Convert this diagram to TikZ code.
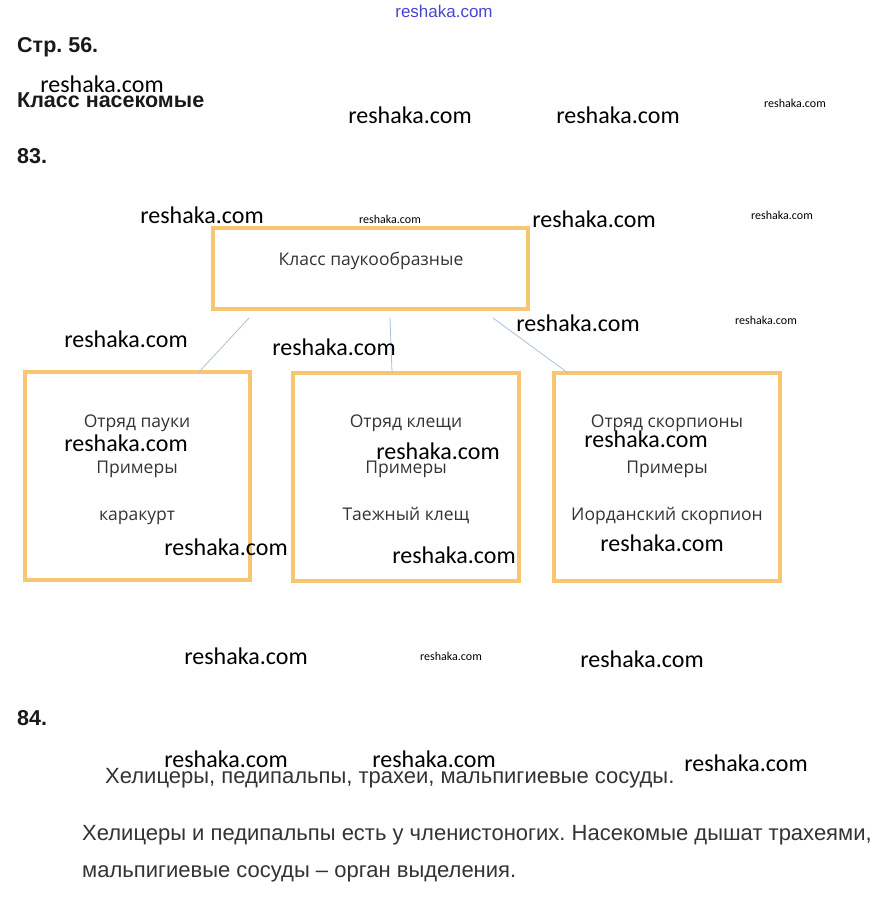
\documentclass[tikz,border=0pt]{standalone}
\usepackage{fontspec}
\setmainfont{Liberation Sans}
\newfontfamily\wmfont{Carlito}
\newfontfamily\boxfont{Open Sans}
\definecolor{boxorange}{HTML}{F8C672}
\definecolor{linkblue}{HTML}{A9C0DA}
\definecolor{txtgrey}{HTML}{333333}
\definecolor{topblue}{HTML}{4646D0}
\frenchspacing
\begin{document}
\begin{tikzpicture}[x=1pt,y=-1pt,
  wm/.style={inner sep=0pt,font=\wmfont\fontsize{24}{24}\selectfont,text=black},
  wmsmall/.style={inner sep=0pt,font=\wmfont\fontsize{12}{12}\selectfont,text=black},
  heading/.style={inner sep=0pt,anchor=base west,font=\bfseries\fontsize{21.5}{21.5}\selectfont,text=black!90},
  body/.style={inner sep=0pt,anchor=base west,font=\fontsize{22}{22}\selectfont,text=txtgrey},
  frame/.style={draw=boxorange,line width=4pt,inner sep=0pt},
  boxtext/.style={inner sep=0pt,anchor=base,font=\boxfont\fontsize{17.5}{17.5}\selectfont,text=txtgrey},
  link/.style={draw=linkblue,line width=0.8pt}]
\useasboundingbox (0,0) rectangle (885,898);
% top blue mark
\node[inner sep=0pt,font=\fontsize{17}{17}\selectfont,text=topblue] (topmark) at (444,11) {reshaka.com};
% headings
\node[heading] (h1) at (17,52) {Стр. 56.};
\node[heading] (h2) at (17,107) {Класс насекомые};
\node[heading] (h3) at (17,163) {83.};
\node[heading] (h4) at (17,725) {84.};
% boxes
\node[frame,minimum width=315pt,minimum height=81pt] (top) at (370.5,268.5) {};
\node[frame,minimum width=225pt,minimum height=208pt] (b1) at (137.5,476) {};
\node[frame,minimum width=226pt,minimum height=208pt] (b2) at (406,477) {};
\node[frame,minimum width=226pt,minimum height=208pt] (b3) at (667,477) {};
\node[boxtext] (tt) at (371,265) {Класс паукообразные};
\node[boxtext] (t11) at (137,427) {Отряд пауки};
\node[boxtext] (t12) at (137,473) {Примеры};
\node[boxtext] (t13) at (137,520) {каракурт};
\node[boxtext] (t21) at (406,427) {Отряд клещи};
\node[boxtext] (t22) at (406,473) {Примеры};
\node[boxtext] (t23) at (406,520) {Таежный клещ};
\node[boxtext] (t31) at (667,427) {Отряд скорпионы};
\node[boxtext] (t32) at (667,473) {Примеры};
\node[boxtext] (t33) at (667,520) {Иорданский скорпион};
% connectors
\coordinate (s1) at (249,318); \coordinate (e1) at (199,372);
\coordinate (s2) at (390,318); \coordinate (e2) at (392,372);
\coordinate (s3) at (493,318); \coordinate (e3) at (568,373);
\draw[link] (s1) -- (e1);
\draw[link] (s2) -- (e2);
\draw[link] (s3) -- (e3);
% body text
\node[body] (l1) at (105,783) {Хелицеры, педипальпы, трахеи, мальпигиевые сосуды.};
\node[body] (l2) at (82,840) {Хелицеры и педипальпы есть у членистоногих. Насекомые дышат трахеями,};
\node[body] (l3) at (82,877) {мальпигиевые сосуды – орган выделения.};
% watermarks
\node[wm] (w1) at (102,84) {reshaka.com};
\node[wm] (w2) at (410,115) {reshaka.com};
\node[wm] (w3) at (618,115) {reshaka.com};
\node[wmsmall] (w4) at (795,103) {reshaka.com};
\node[wm] (w5) at (202,215) {reshaka.com};
\node[wmsmall] (w6) at (390,219) {reshaka.com};
\node[wm] (w7) at (594,219) {reshaka.com};
\node[wmsmall] (w8) at (782,215) {reshaka.com};
\node[wm] (w9) at (126,339) {reshaka.com};
\node[wm] (w10) at (334,347) {reshaka.com};
\node[wm] (w11) at (578,323) {reshaka.com};
\node[wmsmall] (w12) at (766,320) {reshaka.com};
\node[wm] (w13) at (126,443) {reshaka.com};
\node[wm] (w14) at (438,451) {reshaka.com};
\node[wm] (w15) at (646,439) {reshaka.com};
\node[wm] (w16) at (226,547) {reshaka.com};
\node[wm] (w17) at (454,555) {reshaka.com};
\node[wm] (w18) at (662,543) {reshaka.com};
\node[wm] (w19) at (246,656) {reshaka.com};
\node[wmsmall] (w20) at (451,656) {reshaka.com};
\node[wm] (w21) at (642,659) {reshaka.com};
\node[wm] (w22) at (226,759) {reshaka.com};
\node[wm] (w23) at (434,759) {reshaka.com};
\node[wm] (w24) at (746,763) {reshaka.com};
\end{tikzpicture}
\end{document}
